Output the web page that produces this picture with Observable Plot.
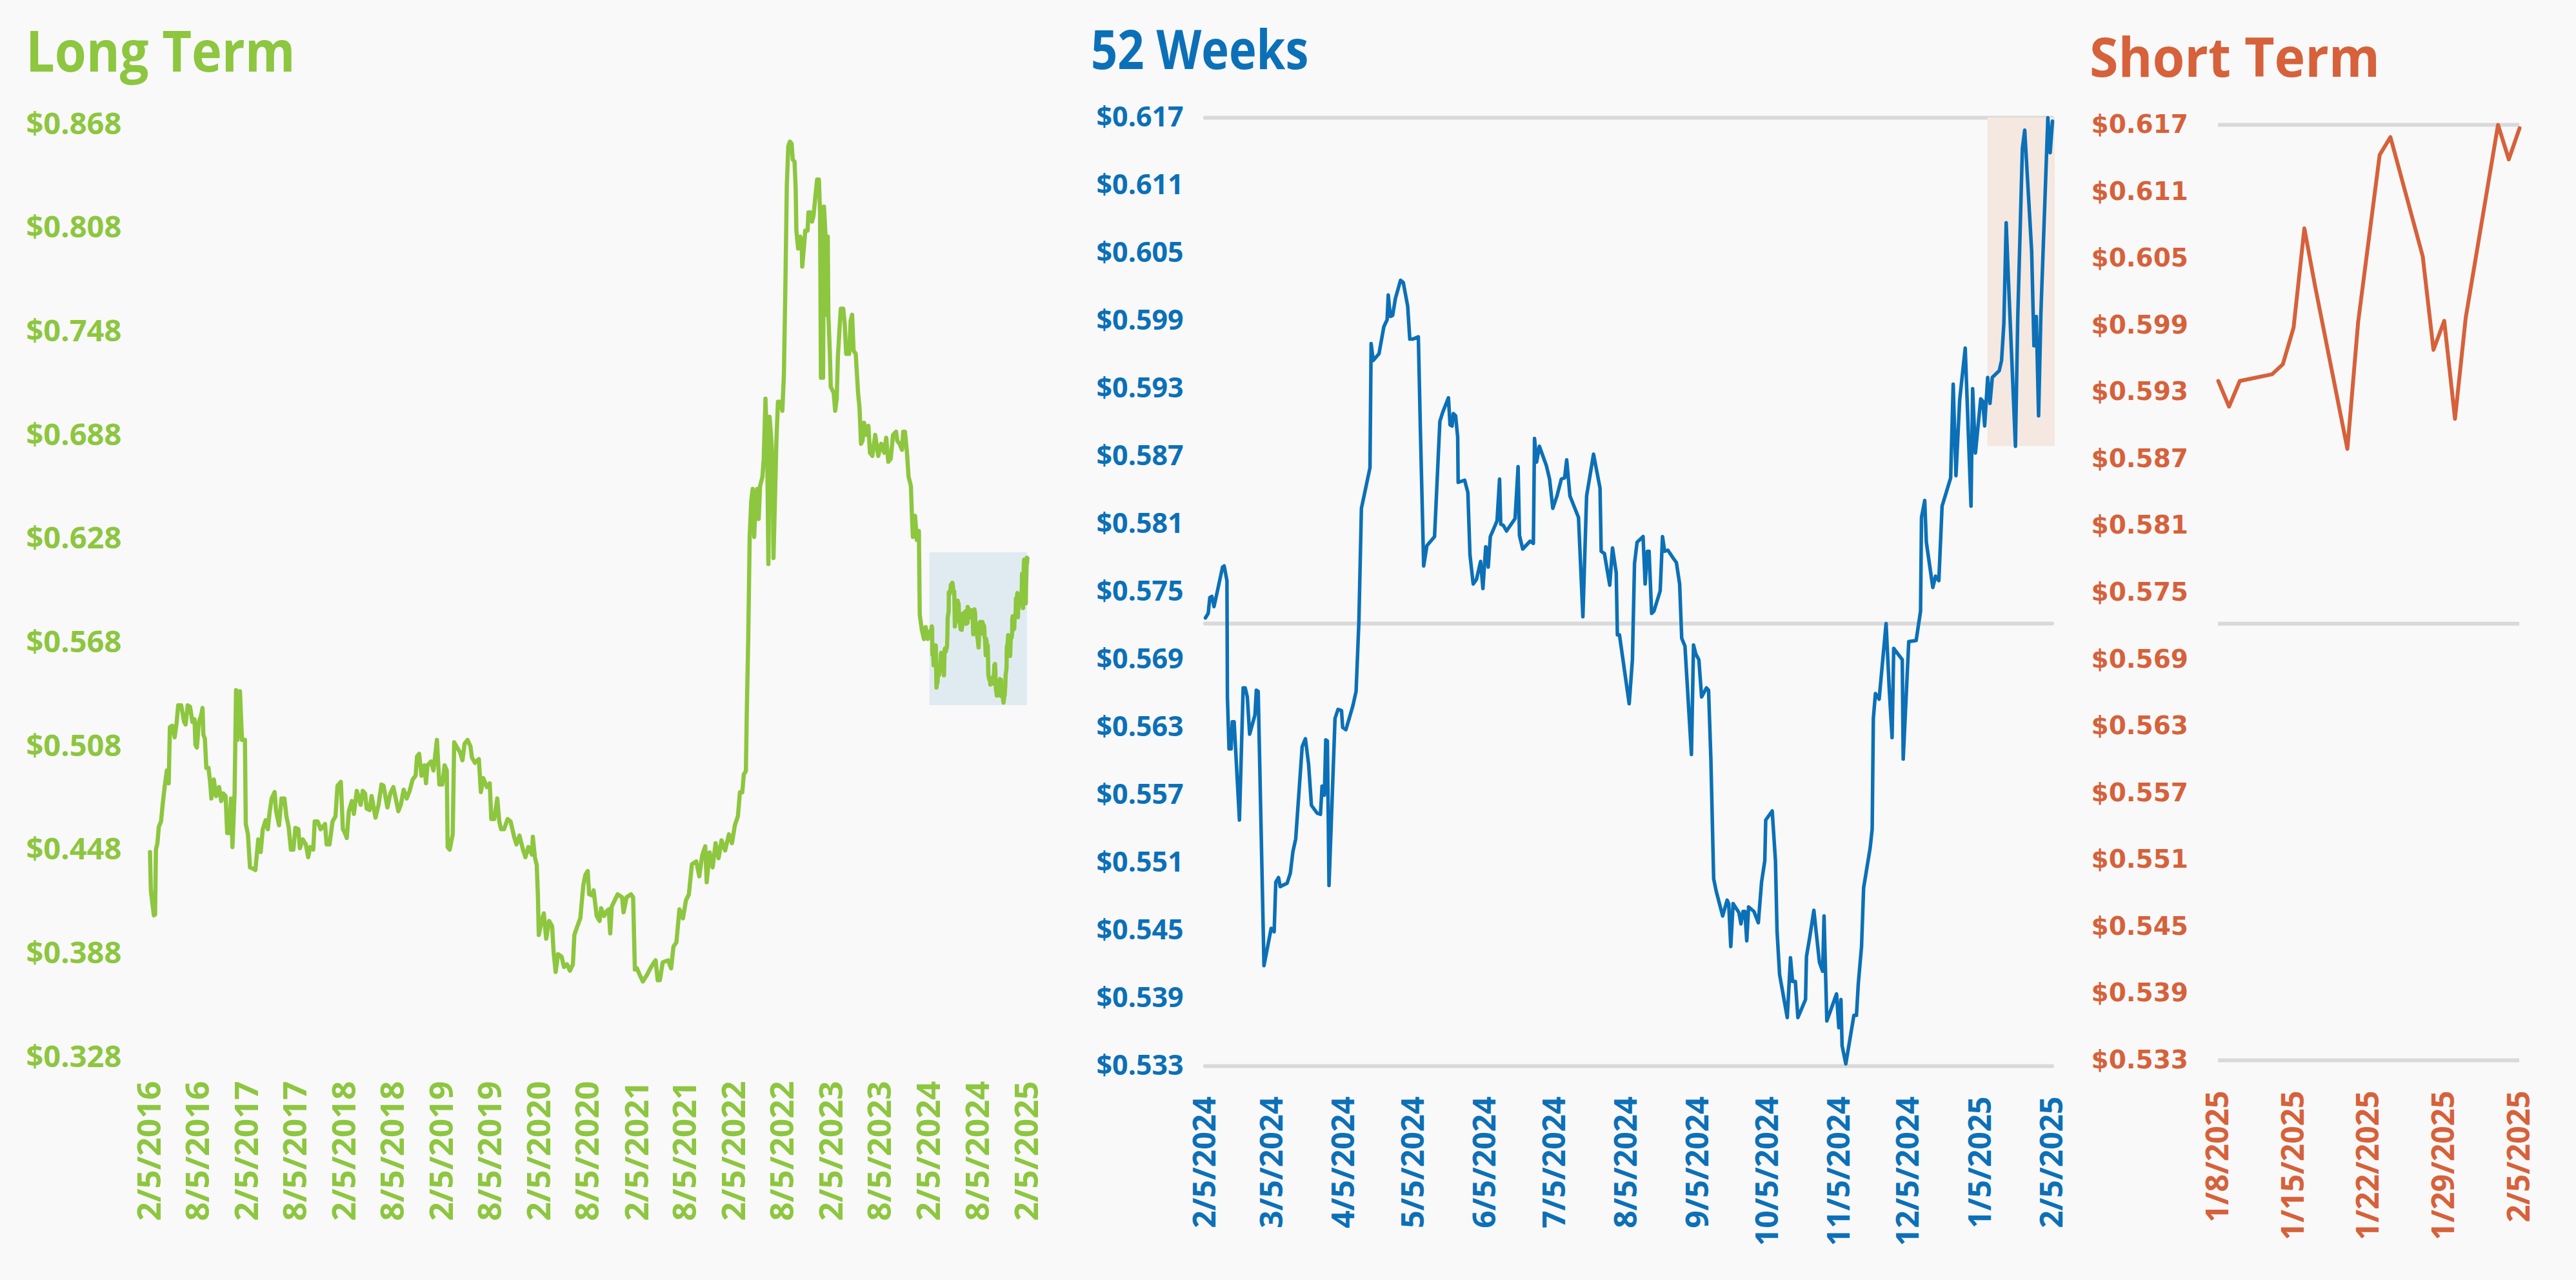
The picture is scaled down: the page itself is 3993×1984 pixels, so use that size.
<!DOCTYPE html>
<html><head><meta charset="utf-8">
<script src="https://cdn.jsdelivr.net/npm/d3@7"></script>
<script src="https://cdn.jsdelivr.net/npm/@observablehq/plot@0.6"></script>
<style>
html,body{margin:0;padding:0;background:#f9f9f9;}
#root{position:relative;width:3993px;height:1984px;background:#f9f9f9;overflow:hidden;}
.panel{position:absolute;top:0;}
.title{position:absolute;font-family:"Open Sans",sans-serif;font-weight:700;white-space:nowrap;line-height:1;transform-origin:0 0;}
</style></head><body><div id="root"></div>
<script>
// ---------------- DATA ----------------
// Long term: years since 2/5/2016 and price (until 2/2024; the last 52 weeks come from the arrays below)
const ltYears = [0,0.009,0.021,0.040,0.052,0.061,0.076,0.091,0.113,0.131,0.152,0.173,0.192,0.204,0.228,0.253,0.274,0.289,0.320,0.350,0.365,0.387,0.411,0.435,0.457,0.466,0.481,0.502,0.524,0.539,0.548,0.563,0.578,0.600,0.618,0.630,0.655,0.679,0.709,0.731,0.752,0.776,0.792,0.813,0.831,0.846,0.868,0.883,0.898,0.923,0.944,0.974,0.983,1.005,1.026,1.057,1.081,1.111,1.136,1.157,1.187,1.209,1.227,1.248,1.279,1.294,1.324,1.349,1.379,1.400,1.422,1.446,1.471,1.492,1.522,1.538,1.568,1.599,1.623,1.644,1.675,1.690,1.720,1.751,1.796,1.812,1.842,1.873,1.903,1.924,1.958,1.979,1.994,2.019,2.040,2.071,2.092,2.122,2.162,2.183,2.207,2.223,2.253,2.274,2.314,2.345,2.375,2.396,2.436,2.466,2.497,2.527,2.548,2.573,2.603,2.634,2.664,2.695,2.725,2.740,2.762,2.786,2.816,2.832,2.847,2.884,2.908,2.944,2.969,2.999,3.023,3.045,3.054,3.075,3.106,3.121,3.151,3.182,3.206,3.228,3.258,3.288,3.304,3.334,3.374,3.395,3.419,3.456,3.486,3.502,3.532,3.563,3.584,3.602,3.633,3.669,3.700,3.736,3.760,3.791,3.827,3.852,3.882,3.919,3.928,3.949,3.968,3.980,3.989,4.019,4.041,4.065,4.095,4.126,4.141,4.162,4.187,4.223,4.248,4.278,4.309,4.339,4.354,4.385,4.415,4.446,4.467,4.491,4.506,4.537,4.552,4.583,4.613,4.628,4.659,4.689,4.707,4.722,4.738,4.798,4.844,4.859,4.890,4.935,4.957,4.975,4.996,5.027,5.057,5.097,5.127,5.164,5.188,5.209,5.231,5.261,5.316,5.347,5.371,5.401,5.432,5.468,5.499,5.529,5.560,5.605,5.636,5.666,5.697,5.712,5.742,5.773,5.803,5.834,5.864,5.901,5.940,5.971,6.001,6.032,6.053,6.077,6.093,6.114,6.123,6.138,6.153,6.169,6.184,6.199,6.214,6.230,6.245,6.260,6.284,6.297,6.315,6.333,6.345,6.357,6.376,6.388,6.397,6.412,6.427,6.443,6.467,6.488,6.504,6.519,6.534,6.549,6.565,6.583,6.595,6.613,6.625,6.632,6.650,6.671,6.686,6.692,6.711,6.723,6.747,6.756,6.778,6.793,6.808,6.823,6.845,6.863,6.875,6.884,6.906,6.915,6.930,6.936,6.954,6.960,6.976,6.985,7.015,7.030,7.046,7.058,7.076,7.088,7.113,7.128,7.143,7.174,7.189,7.204,7.219,7.241,7.250,7.265,7.280,7.295,7.311,7.326,7.350,7.371,7.387,7.411,7.441,7.472,7.502,7.533,7.554,7.575,7.600,7.624,7.655,7.667,7.691,7.716,7.728,7.746,7.767,7.783,7.807,7.819,7.828,7.850,7.868,7.889,7.898,7.920,7.941,7.959,7.980];
const ltPrice = [0.4467,0.4245,0.4186,0.4101,0.4105,0.4481,0.4518,0.4614,0.4643,0.4747,0.4851,0.4939,0.4865,0.5190,0.5198,0.5131,0.5220,0.5316,0.5316,0.5220,0.5205,0.5316,0.5308,0.5220,0.5235,0.5087,0.5072,0.5220,0.5257,0.5301,0.5146,0.5124,0.4954,0.4954,0.4865,0.4777,0.4887,0.4791,0.4843,0.4762,0.4806,0.4791,0.4577,0.4577,0.4777,0.4496,0.4806,0.5404,0.5116,0.5397,0.5116,0.5116,0.4629,0.4570,0.4378,0.4371,0.4363,0.4540,0.4467,0.4599,0.4651,0.4599,0.4695,0.4777,0.4814,0.4703,0.4622,0.4777,0.4777,0.4673,0.4614,0.4481,0.4481,0.4607,0.4599,0.4489,0.4540,0.4511,0.4437,0.4496,0.4481,0.4644,0.4644,0.4599,0.4629,0.4511,0.4511,0.4644,0.4673,0.4851,0.4873,0.4599,0.4585,0.4548,0.4703,0.4762,0.4688,0.4821,0.4740,0.4821,0.4806,0.4718,0.4710,0.4791,0.4666,0.4740,0.4858,0.4851,0.4725,0.4806,0.4843,0.4762,0.4703,0.4740,0.4828,0.4777,0.4821,0.4887,0.4909,0.5020,0.5035,0.4909,0.4969,0.4865,0.4969,0.4991,0.4939,0.5116,0.4858,0.4858,0.4969,0.4939,0.4496,0.4481,0.4570,0.5102,0.5072,0.5043,0.4998,0.5094,0.5116,0.5079,0.5013,0.4983,0.5005,0.4814,0.4895,0.4843,0.4865,0.4658,0.4658,0.4777,0.4644,0.4599,0.4599,0.4658,0.4644,0.4555,0.4511,0.4562,0.4481,0.4437,0.4496,0.4452,0.4555,0.4437,0.4392,0.4216,0.3987,0.4068,0.4112,0.3965,0.4068,0.4038,0.3891,0.3773,0.3876,0.3861,0.3802,0.3817,0.3780,0.3817,0.3987,0.4038,0.4083,0.4275,0.4334,0.4357,0.4223,0.4216,0.4245,0.4097,0.4068,0.4142,0.4097,0.4127,0.4135,0.3996,0.4152,0.4222,0.4205,0.4118,0.4205,0.4222,0.4205,0.3787,0.3794,0.3753,0.3718,0.3753,0.3787,0.3822,0.3840,0.3725,0.3725,0.3829,0.3840,0.3794,0.3920,0.3944,0.4135,0.4083,0.4187,0.4222,0.4396,0.4413,0.4326,0.4448,0.4500,0.4292,0.4465,0.4378,0.4518,0.4431,0.4535,0.4476,0.4570,0.4518,0.4622,0.4674,0.4813,0.4813,0.4917,0.4935,0.5265,0.5700,0.6291,0.6500,0.6569,0.6291,0.6500,0.6569,0.6395,0.6586,0.6639,0.6743,0.7091,0.6778,0.6134,0.6986,0.6847,0.6708,0.6169,0.6500,0.6847,0.7073,0.7073,0.7021,0.7230,0.7734,0.8325,0.8551,0.8579,0.8568,0.8475,0.8464,0.8308,0.8064,0.7960,0.8029,0.7995,0.7856,0.7977,0.8064,0.8064,0.8169,0.8169,0.8116,0.8151,0.8238,0.8360,0.8360,0.8169,0.7212,0.7212,0.8203,0.8047,0.7577,0.8029,0.7577,0.7351,0.7160,0.7125,0.7021,0.7091,0.7334,0.7508,0.7612,0.7612,0.7525,0.7351,0.7351,0.7543,0.7577,0.7369,0.7351,0.7264,0.7125,0.7038,0.6830,0.6847,0.6952,0.6882,0.6934,0.6778,0.6760,0.6882,0.6760,0.6830,0.6778,0.6865,0.6726,0.6743,0.6882,0.6900,0.6847,0.6830,0.6795,0.6900,0.6900,0.6778,0.6639,0.6586,0.6395,0.6291,0.6413,0.6273,0.6326,0.5839,0.5752,0.5700,0.5769,0.5700];

// 52 weeks: days since 2/5/2024 and price (until 1/7/2025; then the short-term arrays)
const wkDays = [0,1.2,1.9,2.8,3.7,5.1,7.4,8.1,9.3,9.5,10.2,11.1,11.6,12.4,14.7,16.3,17.2,18.1,19.1,21.4,22,22.8,25.3,28.4,29.7,30.4,31.6,32.3,35.3,36.7,37.8,39,41.8,43.2,44.6,45.8,48.3,49.7,50.4,51.4,52,52.7,53.4,56,57.3,58.8,59.3,60.7,63.7,65.1,66.3,67.4,71.1,71.6,72.5,75,77.1,78.5,79,79.9,80.9,82.1,84.3,85.5,87.4,88.3,89.7,92,92.9,94.3,95.7,99,101.3,102.5,105,105.7,106.6,107.1,108.1,109,109.2,112,113.4,114.3,115.7,117.1,118.9,119.9,121.1,121.7,122.2,123.1,125.2,126,127.1,127.6,128.7,130.1,133.8,135.1,135.7,137.1,140.3,141.7,142.2,143.1,144.3,147.3,148.7,150.1,151.9,153.8,155.2,156.1,157.5,161.2,163.1,164.7,167.7,170.5,171,172.4,174.7,175.9,177.5,178,178.9,183.1,184.5,185.4,186.5,189.1,190,191,191.7,192.8,193.8,196.5,197.5,198.4,199.8,202.1,203.5,204.9,205.8,207.2,210,210.9,211.9,213.2,214.4,216.5,217.4,218.4,219.6,220.7,223.5,225.4,226.1,227,228,230.5,231.4,232.3,233.1,233.9,234.7,237,238.9,240.3,241.7,242.1,244.9,246.3,247,248.1,251.4,252.8,253.7,254.9,256,259.3,259.7,261.1,262.9,265.3,266.7,267.3,268.5,272.7,273.7,274.6,275.1,276.7,280.2,281.3,282.1,283.5,284.4,287.2,288.1,288.6,289.5,291.1,294.1,295.5,296.7,297.4,301.1,301.5,303.9,307.1,309,309.4,310.8,311.5,314.3,315.5,316.9,318.3,322,323.1,324.3,325.9,328.3,330.8,331.5,332.7,335,335.9,336.7];
const wkPrice = [0.5727,0.5731,0.5745,0.5746,0.5737,0.5750,0.5772,0.5773,0.5760,0.5657,0.5611,0.5611,0.5635,0.5635,0.5548,0.5665,0.5665,0.5657,0.5624,0.5641,0.5663,0.5662,0.5419,0.5452,0.5449,0.5493,0.5497,0.5489,0.5492,0.5501,0.5520,0.5531,0.5613,0.5620,0.5597,0.5561,0.5554,0.5553,0.5578,0.5570,0.5619,0.5618,0.5490,0.5638,0.5646,0.5645,0.5630,0.5628,0.5649,0.5662,0.5723,0.5824,0.5860,0.5970,0.5955,0.5961,0.5985,0.5991,0.6013,0.5994,0.5995,0.6010,0.6026,0.6024,0.6003,0.5974,0.5974,0.5976,0.5892,0.5773,0.5791,0.5799,0.5901,0.5909,0.5922,0.5898,0.5897,0.5908,0.5906,0.5887,0.5847,0.5849,0.5838,0.5783,0.5757,0.5761,0.5777,0.5753,0.5790,0.5788,0.5772,0.5799,0.5809,0.5813,0.5850,0.5810,0.5809,0.5804,0.5815,0.5861,0.5800,0.5788,0.5795,0.5793,0.5886,0.5865,0.5879,0.5862,0.5850,0.5824,0.5835,0.5850,0.5851,0.5867,0.5835,0.5816,0.5728,0.5835,0.5872,0.5842,0.5786,0.5784,0.5756,0.5789,0.5767,0.5712,0.5712,0.5651,0.5690,0.5775,0.5794,0.5799,0.5757,0.5786,0.5786,0.5731,0.5733,0.5751,0.5799,0.5786,0.5787,0.5780,0.5776,0.5757,0.5709,0.5702,0.5606,0.5703,0.5695,0.5690,0.5657,0.5665,0.5663,0.5602,0.5496,0.5485,0.5463,0.5477,0.5474,0.5436,0.5474,0.5466,0.5456,0.5467,0.5467,0.5441,0.5471,0.5467,0.5457,0.5493,0.5512,0.5548,0.5556,0.5512,0.5449,0.5411,0.5373,0.5426,0.5405,0.5405,0.5373,0.5389,0.5427,0.5444,0.5468,0.5422,0.5414,0.5463,0.5370,0.5394,0.5364,0.5389,0.5348,0.5332,0.5375,0.5375,0.5403,0.5436,0.5488,0.5523,0.5540,0.5638,0.5660,0.5655,0.5722,0.5663,0.5621,0.5700,0.5690,0.5602,0.5706,0.5707,0.5733,0.5816,0.5831,0.5794,0.5754,0.5764,0.5760,0.5826,0.5851,0.5934,0.5853,0.5920,0.5966,0.5826,0.5930,0.5873,0.5921,0.5919,0.5897];

// Short term
const stDates = ["1/8/2025","1/9/2025","1/10/2025","1/13/2025","1/14/2025","1/15/2025","1/16/2025","1/17/2025","1/20/2025","1/21/2025","1/22/2025","1/23/2025","1/24/2025","1/27/2025","1/28/2025","1/29/2025","1/30/2025","1/31/2025","2/3/2025","2/4/2025","2/5/2025"];
const stPrice = [0.5940,0.5917,0.5940,0.5946,0.5955,0.5988,0.6077,0.6025,0.5879,0.5993,0.6068,0.6143,0.6159,0.6052,0.5968,0.5994,0.5906,0.5997,0.6170,0.6139,0.6167];

// Tick labels
const ltXTicks = ["2/5/2016","8/5/2016","2/5/2017","8/5/2017","2/5/2018","8/5/2018","2/5/2019","8/5/2019","2/5/2020","8/5/2020","2/5/2021","8/5/2021","2/5/2022","8/5/2022","2/5/2023","8/5/2023","2/5/2024","8/5/2024","2/5/2025"];
const wkXTicks = ["2/5/2024","3/5/2024","4/5/2024","5/5/2024","6/5/2024","7/5/2024","8/5/2024","9/5/2024","10/5/2024","11/5/2024","12/5/2024","1/5/2025","2/5/2025"];
const stXTicks = ["1/8/2025","1/15/2025","1/22/2025","1/29/2025","2/5/2025"];
const ltYTicks = [0.328,0.388,0.448,0.508,0.568,0.628,0.688,0.748,0.808,0.868];
const wkYTicks = [0.533,0.539,0.545,0.551,0.557,0.563,0.569,0.575,0.581,0.587,0.593,0.599,0.605,0.611,0.617];
const refLevels = [0.617, 0.5722, 0.533]; // high, average, low of 52 weeks

// ---------------- BUILD ----------------
const GREEN = "#8dc63f", BLUE = "#0b70b7", ORANGE = "#d6613a", GRID = "#d9d9d9";
const DAY = 864e5;
const parse = d3.utcParse("%m/%d/%Y");
const fmt = d3.utcFormat("%-m/%-d/%Y");
const ltStart = parse("2/5/2016"), wkStart = parse("2/5/2024"), end = parse("2/5/2025");

const stData = stDates.map((s, i) => ({date: parse(s), price: stPrice[i]}));
const wkData = wkDays.map((d, i) => ({date: new Date(+wkStart + d * DAY), price: wkPrice[i]})).concat(stData);
const ltData = ltYears.map((t, i) => ({date: new Date(+ltStart + t * 365.25 * DAY), price: ltPrice[i]})).concat(wkData);

const wkMin = d3.min(wkData, d => d.price), wkMax = d3.max(wkData, d => d.price);
const stMin = d3.min(stData, d => d.price), stMax = d3.max(stData, d => d.price);

const root = document.getElementById("root");
function addTitle(text, left, top, size, color, sx) {
  const t = document.createElement("div");
  t.className = "title"; t.textContent = text;
  t.style.left = left + "px"; t.style.top = top + "px";
  t.style.fontSize = size + "px"; t.style.color = color;
  t.style.transform = `scaleX(${sx})`;
  root.appendChild(t);
}
function addPanel(el, left) {
  const d = document.createElement("div");
  d.className = "panel"; d.style.left = left + "px";
  d.appendChild(el); root.appendChild(d);
}
const baseStyle = {background: "transparent", overflow: "visible", fontFamily: "'Open Sans', sans-serif"};

// Long term
addPanel(Plot.plot({
  width: 1650, height: 1984,
  marginLeft: 232, marginRight: 58, marginTop: 192, marginBottom: 346,
  style: baseStyle,
  x: {type: "utc", domain: [ltStart, end]},
  y: {domain: [0.328, 0.868]},
  marks: [
    Plot.rect([{}], {x1: wkStart, x2: end, y1: wkMin - 0.0017, y2: wkMax + 0.003, fill: "#e0ebf1"}),
    Plot.lineY(ltData, {x: "date", y: "price", stroke: GREEN, strokeWidth: 6.5, strokeLinejoin: "round"}),
    Plot.axisY({ticks: ltYTicks, tickFormat: d => "$" + d.toFixed(3), tickSize: 0, tickPadding: 192, label: null,
      textAnchor: "start", fontSize: 47, fontWeight: 700, fill: GREEN}),
    Plot.axisX({ticks: ltXTicks.map(parse), tickFormat: fmt, tickRotate: -90, tickSize: 0, tickPadding: 37, label: null,
      fontSize: 51, fontWeight: 700, fill: GREEN})
  ]
}), 0);

// 52 weeks
addPanel(Plot.plot({
  width: 1550, height: 1984,
  marginLeft: 218, marginRight: 19, marginTop: 182, marginBottom: 332,
  style: baseStyle,
  x: {type: "utc", domain: [wkStart, end]},
  y: {domain: [0.533, 0.617]},
  marks: [
    Plot.ruleY(refLevels, {stroke: GRID, strokeWidth: 6, strokeLinecap: "round"}),
    Plot.rect([{}], {x1: stData[0].date, x2: end, y1: stMin, y2: stMax, fill: "#f4e8e1", insetRight: -4}),
    Plot.lineY(wkData, {x: "date", y: "price", stroke: BLUE, strokeWidth: 5.5, strokeLinejoin: "round"}),
    Plot.axisY({ticks: wkYTicks, tickFormat: d => "$" + d.toFixed(3), tickSize: 0, tickPadding: 169, label: null,
      textAnchor: "start", fontSize: 43, fontWeight: 700, fill: BLUE}),
    Plot.axisX({ticks: wkXTicks.map(parse), tickFormat: fmt, tickRotate: -90, tickSize: 0, tickPadding: 47, label: null,
      fontSize: 48, fontWeight: 700, fill: BLUE})
  ]
}), 1650);

// Short term
addPanel(Plot.plot({
  width: 793, height: 1984,
  marginLeft: 238, marginRight: 88, marginTop: 193, marginBottom: 341,
  style: baseStyle,
  x: {type: "utc", domain: [stData[0].date, end]},
  y: {domain: [0.533, 0.617]},
  marks: [
    Plot.ruleY(refLevels, {stroke: GRID, strokeWidth: 6}),
    Plot.lineY(stData, {x: "date", y: "price", stroke: ORANGE, strokeWidth: 6, strokeLinejoin: "round"}),
    Plot.axisY({ticks: wkYTicks, tickFormat: d => "$" + d.toFixed(3), tickSize: 0, tickPadding: 197, label: null,
      textAnchor: "start", fontSize: 39, fontWeight: 700, fill: ORANGE, fontFamily: "'DejaVu Sans', sans-serif"}),
    Plot.axisX({ticks: stXTicks.map(parse), tickFormat: fmt, tickRotate: -90, tickSize: 0, tickPadding: 47, label: null,
      fontSize: 48, fontWeight: 700, fill: ORANGE})
  ]
}), 3200);

addTitle("Long Term", 40, 33, 88, GREEN, 0.9);
addTitle("52 Weeks", 1691, 33, 84, BLUE, 0.86);
addTitle("Short Term", 3239, 45, 84, ORANGE, 0.96);
</script></body></html>
